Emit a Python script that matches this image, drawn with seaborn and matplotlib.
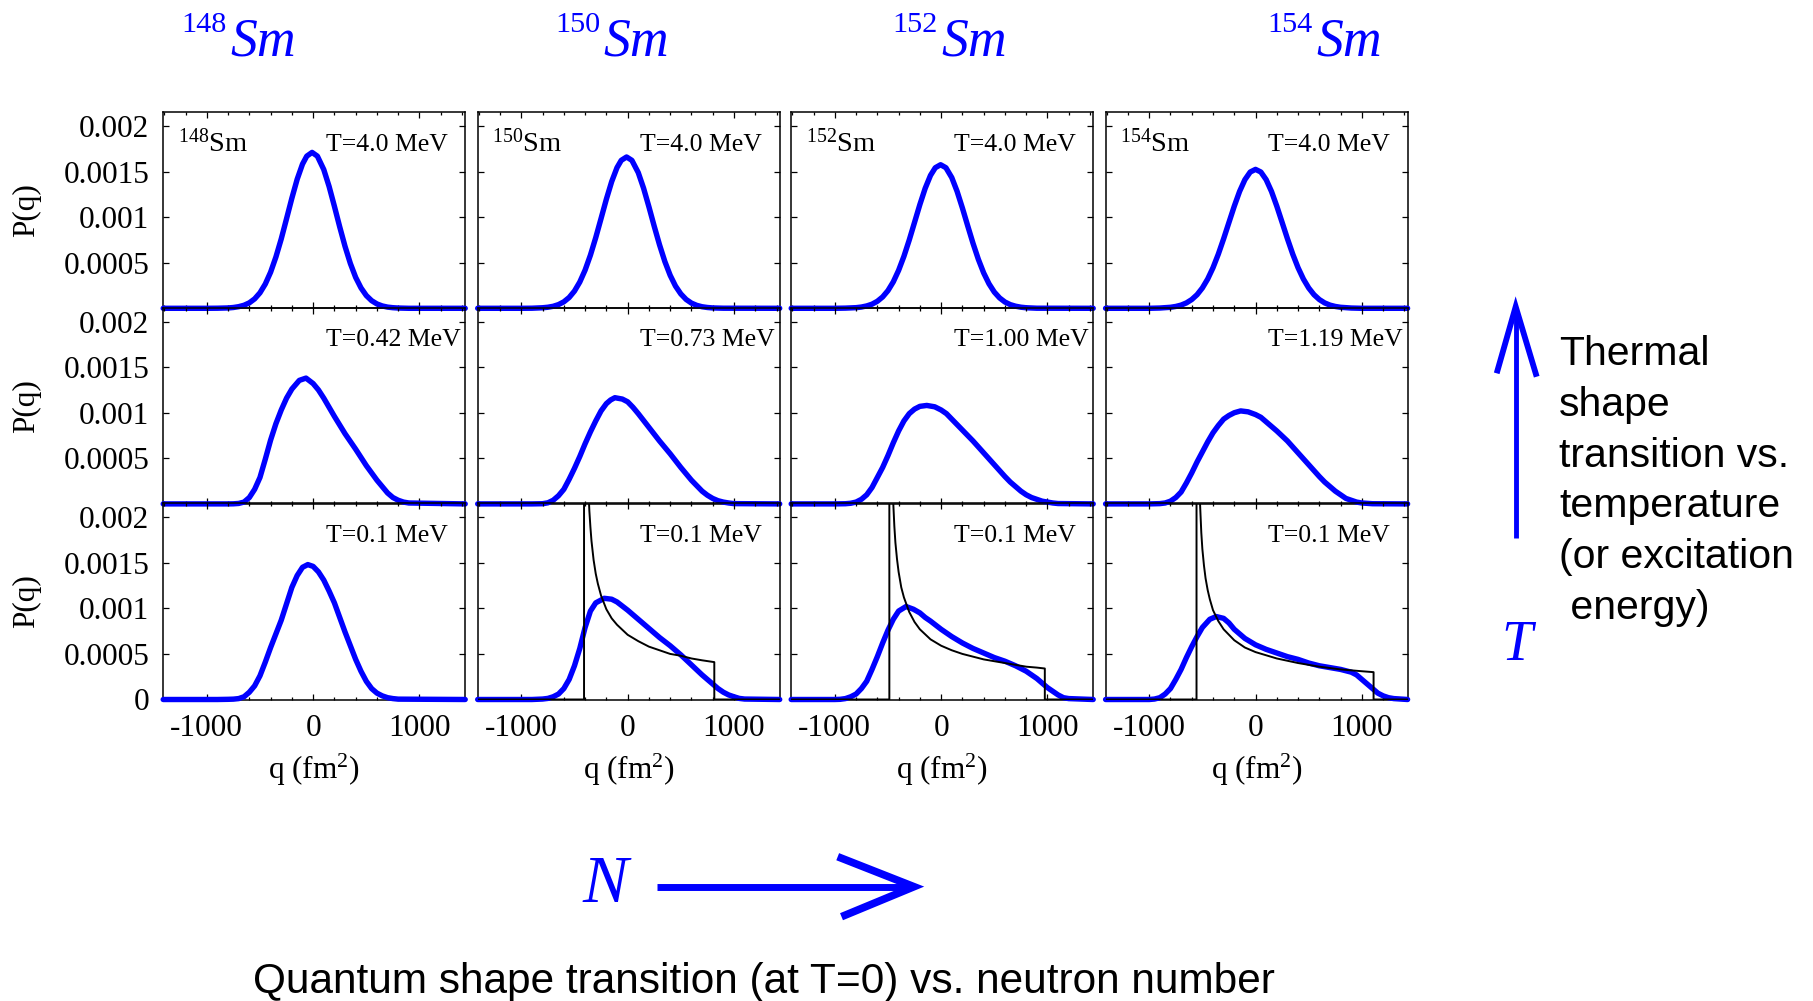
import matplotlib
matplotlib.use('Agg')
import matplotlib.pyplot as plt
from matplotlib.lines import Line2D
from matplotlib.ticker import MultipleLocator
import seaborn as sns

# ---- data: q in fm^2, P(q) ----
nuclei = ['148', '150', '152', '154']
temps_mid = ['T=0.42 MeV', 'T=0.73 MeV', 'T=1.00 MeV', 'T=1.19 MeV']

# top row, T=4.0 MeV
q_148_hi = [-1410, -1000, -900, -800, -750, -700, -650, -600, -550, -500, -450, -400, -350, -300, -250, -200, -150, -100, -60, -10,
            40, 100, 150, 200, 250, 300, 350, 400, 450, 500, 550, 600, 650, 700, 750, 800, 900, 1430]
p_148_hi = [0, 0, 0.000001, 0.000004, 0.0000088, 0.000018, 0.0000333, 0.00006, 0.0001035, 0.00017, 0.000266, 0.000396, 0.000563, 0.000761,
            0.000983, 0.001208, 0.001416, 0.001582, 0.001669, 0.00171, 0.001669, 0.001522, 0.001337, 0.001119, 0.000893, 0.000679,
            0.000492, 0.000339, 0.000224, 0.00014, 0.0000838, 0.000048, 0.0000259, 0.000013, 0.0000066, 0.000003, 0, 0]
q_150_hi = [-1410, -1000, -900, -800, -750, -700, -650, -600, -550, -500, -450, -400, -350, -300, -250, -200, -150, -100, -60, -10,
            40, 100, 150, 200, 250, 300, 350, 400, 450, 500, 550, 600, 650, 700, 750, 800, 900, 1430]
p_150_hi = [0, 0, 0.000001, 0.000006, 0.0000117, 0.000022, 0.0000407, 0.000071, 0.0001185, 0.000189, 0.000288, 0.000419, 0.000583,
            0.000775, 0.000985, 0.001197, 0.00139, 0.001543, 0.001623, 0.00166, 0.001623, 0.001488, 0.001317, 0.001114, 0.0009,
            0.000696, 0.000513, 0.000362, 0.000244, 0.000158, 0.0000971, 0.000057, 0.0000322, 0.000017, 0.0000089, 0.000004, 0.000001, 0]
q_152_hi = [-1410, -1000, -900, -800, -750, -700, -650, -600, -550, -500, -450, -400, -350, -300, -250, -200, -150, -100, -55, -5,
            45, 100, 150, 200, 250, 300, 350, 400, 450, 500, 550, 600, 650, 700, 750, 800, 900, 1430]
p_152_hi = [0, 0, 0.000002, 0.000007, 0.0000138, 0.000026, 0.0000451, 0.000077, 0.0001247, 0.000194, 0.00029, 0.000416, 0.00057,
            0.000749, 0.000943, 0.001138, 0.001316, 0.001458, 0.001542, 0.001575, 0.001542, 0.001434, 0.001283, 0.0011, 0.000904,
            0.000712, 0.000537, 0.000388, 0.000269, 0.000178, 0.0001135, 0.000069, 0.0000404, 0.000023, 0.0000121, 0.000006, 0.000001, 0]
q_154_hi = [-1410, -1000, -900, -800, -750, -700, -650, -600, -550, -500, -450, -400, -350, -300, -250, -200, -150, -100, -50, 0,
            50, 100, 150, 200, 250, 300, 350, 400, 450, 500, 550, 600, 650, 700, 750, 800, 900, 1000, 1430]
p_154_hi = [0, 0, 0.000003, 0.000011, 0.0000202, 0.000035, 0.0000592, 0.000096, 0.000149, 0.000223, 0.000321, 0.000445, 0.000594,
            0.000763, 0.000942, 0.00112, 0.001282, 0.001411, 0.001495, 0.001524, 0.001495, 0.001411, 0.001282, 0.00112, 0.000942,
            0.000763, 0.000594, 0.000445, 0.000321, 0.000223, 0.000149, 0.000096, 0.0000592, 0.000035, 0.0000202, 0.000011, 0.000003, 0, 0]

# middle row, intermediate T
q_148_mid = [-1410, -800, -750, -700, -650, -600, -550, -500, -450, -400, -350, -300, -250, -200, -130, -67, 0, 50, 100, 150,
             200, 250, 300, 350, 400, 450, 500, 550, 600, 650, 700, 750, 800, 850, 900, 1430]
p_148_mid = [0, 0, 0.000001, 0.000005, 0.00002, 0.00007, 0.00016, 0.00029, 0.00049, 0.0007, 0.00088, 0.00103, 0.00116, 0.00126,
             0.001355, 0.00138, 0.00132, 0.00125, 0.00116, 0.00106, 0.00096, 0.000865, 0.00077, 0.000685, 0.0006, 0.00051, 0.00042,
             0.00034, 0.00026, 0.00019, 0.00012, 0.00007, 0.00004, 0.00002, 0.00001, 0]
q_150_mid = [-1410, -900, -800, -750, -700, -650, -600, -550, -500, -450, -400, -350, -300, -250, -200, -160, -120, -50, 0, 50,
             100, 150, 200, 250, 300, 350, 400, 450, 500, 550, 600, 650, 700, 750, 800, 850, 900, 950, 1000, 1430]
p_150_mid = [0, 0, 0.000002, 0.000012, 0.00004, 0.00009, 0.00016, 0.00027, 0.00039, 0.00052, 0.00066, 0.00079, 0.00091, 0.00102,
             0.0011, 0.00114, 0.001165, 0.00115, 0.00112, 0.00106, 0.00099, 0.000915, 0.00084, 0.000765, 0.00069, 0.00062, 0.00055,
             0.000475, 0.0004, 0.00033, 0.00026, 0.0002, 0.00014, 0.000095, 0.00006, 0.000035, 0.00002, 0.00001, 0.000003, 0]
q_152_mid = [-1410, -1000, -900, -850, -800, -750, -700, -650, -600, -550, -500, -450, -400, -350, -300, -250, -200, -135, -60, 0,
             50, 100, 150, 200, 250, 300, 350, 400, 450, 500, 550, 600, 650, 700, 750, 800, 850, 900, 950, 1000, 1050, 1100, 1430]
p_152_mid = [0, 0, 0.000002, 0.000007, 0.00002, 0.00005, 0.0001, 0.00018, 0.00029, 0.0004, 0.00053, 0.00067, 0.0008, 0.00091,
             0.00099, 0.00104, 0.00107, 0.00108, 0.001065, 0.00103, 0.00099, 0.00093, 0.00087, 0.00081, 0.00075, 0.00069, 0.000625,
             0.00056, 0.000495, 0.00043, 0.000365, 0.0003, 0.00024, 0.00019, 0.00014, 0.0001, 0.00007, 0.00005, 0.00003, 0.00002,
             0.00001, 0.000004, 0]
q_154_mid = [-1410, -1000, -900, -850, -800, -750, -700, -650, -600, -550, -500, -450, -400, -350, -300, -250, -200, -140, -70, 0,
             50, 100, 150, 200, 250, 300, 350, 400, 450, 500, 550, 600, 650, 700, 750, 800, 850, 900, 950, 1000, 1100, 1430]
p_154_mid = [0, 0, 0.000003, 0.00001, 0.00003, 0.00007, 0.00013, 0.00023, 0.00034, 0.00046, 0.00057, 0.00068, 0.00078, 0.00086,
             0.00093, 0.00097, 0.001, 0.00102, 0.00101, 0.00098, 0.00095, 0.0009, 0.00085, 0.0008, 0.000745, 0.00069, 0.000625,
             0.00056, 0.000495, 0.00043, 0.000365, 0.0003, 0.00024, 0.00019, 0.00014, 0.0001, 0.00006, 0.00004, 0.00002, 0.00001,
             0.000002, 0]

# bottom row, T=0.1 MeV
q_148_lo = [-1410, -900, -800, -750, -700, -650, -600, -550, -500, -450, -400, -350, -300, -250, -200, -150, -100, -50, 0, 50,
            100, 150, 200, 250, 300, 350, 400, 450, 500, 550, 600, 650, 700, 750, 800, 1430]
p_148_lo = [0, 0, 0.000002, 0.000004, 0.00001, 0.00003, 0.00008, 0.00015, 0.00026, 0.00041, 0.00057, 0.00072, 0.00087, 0.00105,
            0.00123, 0.00136, 0.00145, 0.00148, 0.00146, 0.0014, 0.00131, 0.00119, 0.00106, 0.0009, 0.00074, 0.00059, 0.00044,
            0.00031, 0.0002, 0.00012, 0.00007, 0.00004, 0.00002, 0.00001, 0.000004, 0]
q_150_lo = [-1410, -900, -800, -750, -700, -650, -600, -550, -500, -450, -400, -350, -300, -220, -150, -100, -50, 0, 100, 200,
            300, 400, 500, 600, 700, 800, 850, 900, 950, 1000, 1050, 1100, 1430]
p_150_lo = [0, 0, 0.000005, 0.000012, 0.00003, 0.00006, 0.00012, 0.00022, 0.00037, 0.00056, 0.00079, 0.00097, 0.00106, 0.00111,
            0.0011, 0.00107, 0.001025, 0.00098, 0.00088, 0.00078, 0.00068, 0.00059, 0.00049, 0.00038, 0.00027, 0.00017, 0.00012,
            0.00008, 0.00005, 0.00003, 0.000012, 0.000005, 0]
q_152_lo = [-1410, -1000, -950, -900, -850, -800, -750, -700, -650, -600, -550, -500, -450, -400, -330, -260, -200, -150, -100, 0,
            100, 200, 300, 400, 500, 600, 700, 800, 850, 900, 950, 1000, 1050, 1100, 1150, 1200, 1430]
p_152_lo = [0, 0, 0.000002, 0.00001, 0.00003, 0.00006, 0.00012, 0.0002, 0.00033, 0.00047, 0.00062, 0.00076, 0.00088, 0.00097,
            0.00102, 0.00099, 0.00095, 0.0009, 0.00086, 0.00077, 0.00069, 0.00062, 0.00056, 0.00051, 0.00046, 0.00042, 0.00037,
            0.00031, 0.00027, 0.00023, 0.00018, 0.00013, 0.00009, 0.00005, 0.00002, 0.00001, 0]
q_154_lo = [-1410, -1000, -950, -900, -850, -800, -750, -700, -650, -600, -550, -500, -430, -370, -300, -250, -200, -150, -100, 0,
            100, 200, 300, 400, 500, 600, 700, 800, 900, 950, 1000, 1050, 1100, 1150, 1200, 1250, 1300, 1430]
p_154_lo = [0, 0, 0.000005, 0.00002, 0.00006, 0.00012, 0.00022, 0.00033, 0.00046, 0.00058, 0.00069, 0.00079, 0.00088, 0.00091,
            0.00089, 0.00084, 0.00077, 0.00072, 0.00067, 0.0006, 0.00055, 0.00051, 0.00047, 0.00044, 0.0004, 0.00037, 0.00035,
            0.00033, 0.0003, 0.00027, 0.00022, 0.00017, 0.00012, 0.00007, 0.00004, 0.00002, 0.00001, 0]

# black T=0 curves (fixed deformation, random orientation)
q_150_t0 = [-1410, -410, -410, -363, -360, -350, -340, -320, -300, -280, -250, -200, -150, -100, 0, 100, 200, 300, 400, 500, 600, 700, 815, 815, 1430]
p_150_t0 = [0, 0, 0.0025, 0.00215, 0.00207, 0.00189, 0.00174, 0.00153, 0.00138, 0.00127, 0.00114, 0.00099, 0.00089, 0.00082, 0.00071,
            0.00064, 0.00058, 0.00054, 0.0005, 0.00048, 0.00045, 0.00043, 0.00041, 0, 0]
q_152_t0 = [-1410, -487, -487, -450, -440, -430, -415, -400, -375, -350, -300, -250, -200, -100, 0, 100, 200, 300, 400, 500, 600, 700,
            800, 900, 975, 975, 1430]
p_152_t0 = [0, 0, 0.0025, 0.00215, 0.0019, 0.00172, 0.00154, 0.0014, 0.00123, 0.00112, 0.00096, 0.00085, 0.00077, 0.00066, 0.00059,
            0.00054, 0.0005, 0.00047, 0.00044, 0.00042, 0.0004, 0.00038, 0.00036, 0.00035, 0.00034, 0, 0]
q_154_t0 = [-1410, -555, -555, -522, -510, -500, -485, -470, -450, -430, -400, -350, -300, -200, -100, 0, 200, 400, 600, 800, 1000,
            1110, 1110, 1430]
p_154_t0 = [0, 0, 0.0025, 0.00215, 0.00183, 0.00165, 0.00147, 0.00133, 0.0012, 0.0011, 0.00098, 0.00086, 0.00077, 0.00065, 0.00057,
            0.00052, 0.00045, 0.0004, 0.00036, 0.00033, 0.00031, 0.0003, 0, 0]

yticks = [0, 0.0005, 0.001, 0.0015, 0.002]
ytick_labels = ['0', '0.0005', '0.001', '0.0015', '0.002']

blue_rows = [
    [(q_148_hi, p_148_hi), (q_150_hi, p_150_hi), (q_152_hi, p_152_hi), (q_154_hi, p_154_hi)],
    [(q_148_mid, p_148_mid), (q_150_mid, p_150_mid), (q_152_mid, p_152_mid), (q_154_mid, p_154_mid)],
    [(q_148_lo, p_148_lo), (q_150_lo, p_150_lo), (q_152_lo, p_152_lo), (q_154_lo, p_154_lo)],
]
black_lo = [None, (q_150_t0, p_150_t0), (q_152_t0, p_152_t0), (q_154_t0, p_154_t0)]
row_temps = [['T=4.0 MeV'] * 4, temps_mid, ['T=0.1 MeV'] * 4]

sns.set_style('ticks', {'axes.edgecolor': 'black', 'xtick.color': 'black', 'ytick.color': 'black',
                        'text.color': 'black', 'axes.labelcolor': 'black'})
plt.rcParams['font.family'] = ['Liberation Serif', 'DejaVu Serif']
plt.rcParams['mathtext.fontset'] = 'custom'
plt.rcParams['mathtext.rm'] = 'Liberation Serif'
plt.rcParams['mathtext.it'] = 'Liberation Serif:italic'

W, H = 1813, 1001
fig = plt.figure(figsize=(W / 100, H / 100), dpi=100)

def fx(x):
    return x / W

def fy(y):
    return 1 - y / H

col_left = [163.2, 477.7, 791.2, 1105.6]
row_top = [112.3, 307.9, 503.5]
pw, ph = 302, 196

for r in range(3):
    for c in range(4):
        ax = fig.add_axes([fx(col_left[c]), fy(row_top[r] + ph), pw / W, ph / H])
        ax.patch.set_alpha(0)
        q, p = blue_rows[r][c]
        sns.lineplot(x=q, y=p, ax=ax, color='#0000ff', linewidth=3.9, estimator=None,
                     sort=False, clip_on=False, zorder=3, solid_joinstyle='round')
        if r == 2 and black_lo[c] is not None:
            qb, pb = black_lo[c]
            sns.lineplot(x=qb, y=pb, ax=ax, color='black', linewidth=1.4, estimator=None,
                         sort=False, zorder=4)
        ax.set_xlim(-1410, 1430)
        ax.set_ylim(0, 0.00215)
        ax.set_xticks([-1000, 0, 1000])
        ax.set_xticklabels(['-1000', '0', '1000'])
        ax.xaxis.set_minor_locator(MultipleLocator(200))
        ax.set_yticks(yticks)
        labs = list(ytick_labels)
        if r < 2:
            labs[0] = ''
        ax.set_yticklabels(labs)
        ax.tick_params(which='both', direction='in', top=True, right=True, width=0.9,
                       labelsize=22.5)
        ax.tick_params(which='major', length=4.6)
        ax.tick_params(which='minor', length=2.5)
        ax.tick_params(axis='x', pad=10.5)
        ax.tick_params(axis='y', pad=10)
        ax.tick_params(labelleft=(c == 0), labelbottom=(r == 2))
        for s in ax.spines.values():
            s.set_linewidth(1.1)
        ax.set_xlabel('')
        ax.set_ylabel('')
        if c == 0:
            ax.set_ylabel('P(q)', fontsize=22.5)
            ax.yaxis.set_label_coords(-0.452, 0.5)
            ax.yaxis.label.set_verticalalignment('center')
        if r == 2:
            ax.set_xlabel('q (fm$^2$)', fontsize=22.5)
            ax.xaxis.set_label_coords(0.5, -0.404)
            ax.xaxis.label.set_verticalalignment('baseline')
        ax.text(120, 0.00173, row_temps[r][c], fontsize=18.5, va='baseline', ha='left')
        if r == 0:
            ax.text(-1275, 0.00172, '$^{' + nuclei[c] + '}$Sm', fontsize=20.5,
                    va='baseline', ha='left')

# nucleus titles above the columns
sm_left = [230, 603, 941, 1316]
for c in range(4):
    fig.text(fx(sm_left[c] - 3), fy(31.7), nuclei[c], color='#0000ff', fontsize=21.8,
             ha='right', va='baseline')
    fig.text(fx(sm_left[c]), fy(55.5), 'Sm', color='#0000ff', fontsize=38.6,
             style='italic', ha='left', va='baseline')

# temperature arrow on the right
fig.add_artist(Line2D([fx(1515.7), fx(1515.7)], [fy(538), fy(312)], color='#0000ff',
                      lw=3.5, solid_capstyle='butt'))
fig.add_artist(Line2D([fx(1496.7), fx(1515.7), fx(1536.7)], [fy(373.3), fy(306.7), fy(376.7)],
                      color='#0000ff', lw=4.2, solid_capstyle='butt', solid_joinstyle='miter'))
fig.text(fx(1516.7), fy(660), 'T', color='#0000ff', fontsize=40, style='italic',
         ha='center', va='baseline')
side_lines = ['Thermal', 'shape', 'transition vs.', 'temperature', '(or excitation', ' energy)']
side_base = [365, 416, 467, 517, 568, 619]
for txt, b in zip(side_lines, side_base):
    fig.text(fx(1559), fy(b), txt, fontsize=29.5, family='Liberation Sans',
             ha='left', va='baseline')

# neutron-number arrow at the bottom
fig.text(fx(605), fy(901.7), 'N', color='#0000ff', fontsize=49, style='italic',
         ha='center', va='baseline')
fig.add_artist(Line2D([fx(656.8), fx(908)], [fy(886.7), fy(886.7)], color='#0000ff',
                      lw=5, solid_capstyle='butt'))
fig.add_artist(Line2D([fx(837.7), fx(914), fx(841.5)], [fy(856.7), fy(886.7), fy(916.7)],
                      color='#0000ff', lw=5.5, solid_capstyle='butt', solid_joinstyle='miter'))
fig.text(fx(764), fy(993), 'Quantum shape transition (at T=0) vs. neutron number',
         fontsize=30.5, family='Liberation Sans', ha='center', va='baseline')

fig.savefig('out.png', dpi=100)
